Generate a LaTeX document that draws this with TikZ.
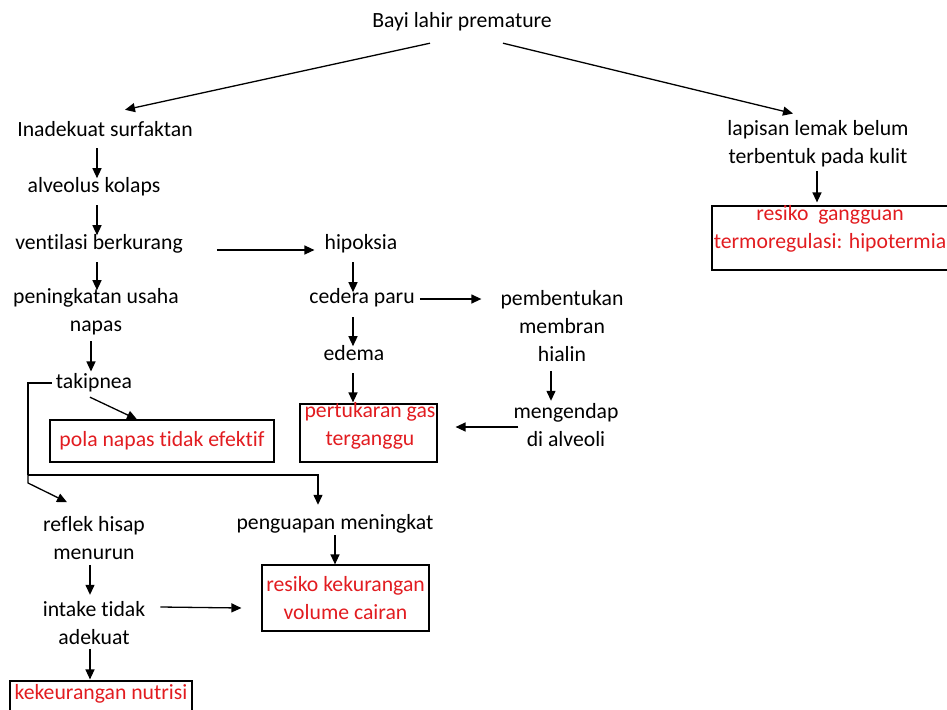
\documentclass[tikz,border=0pt]{standalone}
\usepackage{fontspec}
\setmainfont{Carlito}[RawFeature={-liga}]
\usetikzlibrary{arrows.meta}
\definecolor{txtred}{RGB}{226,28,32}
\begin{document}
\begin{tikzpicture}[x=1pt,y=-1pt,
  every node/.style={font=\fontsize{21.7}{28}\selectfont, inner sep=0pt},
  lbl/.style={text height=15pt, text depth=5pt},
  mlbl/.style={align=center},
  rtxt/.style={text=txtred, align=center},
  boxnode/.style={draw, line width=1.2pt},
  arr/.style={line width=1.3pt, -{Triangle[length=10pt,width=9pt]}},
  conn/.style={line width=1.3pt}]
\useasboundingbox (0,0) rectangle (947,709);
\clip (0,0) rectangle (947,709);
\fill[white] (0,0) rectangle (947,709);

% text nodes
\node[lbl] (bayi) at (462,23) {Bayi lahir premature};
\node[lbl] (inad) at (105,131) {Inadekuat surfaktan};
\node[lbl] (alv) at (94,187) {alveolus kolaps};
\node[lbl] (vent) at (99,244) {ventilasi berkurang};
\node[lbl] (hip) at (361,244) {hipoksia};
\node[mlbl] (pen) at (96,312) {peningkatan usaha\\napas};
\node[lbl] (tak) at (94,383) {takipnea};
\node[lbl] (ced) at (362,298) {cedera paru};
\node[mlbl] (pemb) at (562,326) {pembentukan\\membran\\hialin};
\node[lbl] (edema) at (354,355) {edema};
\node[mlbl] (meng) at (566,425) {mengendap\\di alveoli};
\node[mlbl] (refl) at (94,538) {reflek hisap\\menurun};
\node[mlbl] (intake) at (94,623) {intake tidak\\adekuat};
\node[lbl] (peng) at (335,524) {penguapan meningkat};
\node[mlbl] (lap) at (818,144) {lapisan lemak belum\\terbentuk pada kulit};

% boxes
\node[boxnode, rtxt, minimum width=224pt, minimum height=42pt] (pola) at (162,441) {pola napas tidak efektif};
\node[boxnode, minimum width=137pt, minimum height=58pt] (pertbox) at (368.5,433) {};
\node[rtxt] (pert) at (370,426) {pertukaran gas\\terganggu};
\node[boxnode, rtxt, minimum width=167pt, minimum height=66pt] (resvol) at (345.5,598) {resiko kekurangan\\volume cairan};
\node[boxnode, minimum width=238pt, minimum height=64pt] (termbox) at (831,238) {};
\node[rtxt] (term) at (830,229) {resiko\ \ gangguan\\termoregulasi: hipotermia};
\node[boxnode, minimum width=182pt, minimum height=36pt] (kekbox) at (101,699) {};
\node[rtxt, lbl] (kek) at (101,694) {kekeurangan nutrisi};

% connectors
\draw[arr] ([shift={(-32,10)}]bayi.south) -- ([shift={(20,-11)}]inad.north);
\draw[arr] ([shift={(41,10)}]bayi.south) -- ([shift={(-25,-7)}]lap.north);
\draw[arr] ([shift={(-8,7)}]inad.south) -- ([shift={(-8,37)}]inad.south);
\draw[arr] ([shift={(3,8)}]alv.south) -- ([shift={(3,38)}]alv.south);
\draw[arr] ([shift={(34,6)}]vent.east) -- ([shift={(-10,6)}]hip.west);
\draw[arr] ([shift={(-2,8)}]vent.south) -- ([shift={(-2,36)}]vent.south);
\draw[arr] ([shift={(-5,6)}]pen.south) -- ([shift={(-5,36)}]pen.south);
\draw[arr] ([shift={(-4,4)}]tak.south) -- ([shift={(-25,0)}]pola.north);
\coordinate (split) at (28,475);
\draw[conn] ([shift={(-4,0)}]tak.west) -| (split);
\draw[arr] (split) -- ++(0,8) -- ([shift={(-27,-14)}]refl.north);
\draw[arr] (split) -| ([shift={(-17,-9)}]peng.north);
\draw[arr] ([shift={(-8,8)}]hip.south) -- ([shift={(-8,38)}]hip.south);
\draw[arr] ([shift={(5,1)}]ced.east) -- ([shift={(-19,-27)}]pemb.west);
\draw[arr] ([shift={(-9,9)}]ced.south) -- ([shift={(-9,38)}]ced.south);
\draw[arr] ([shift={(-1,8)}]edema.south) -- ([shift={(-15.5,-1)}]pertbox.north);
\draw[arr] ([shift={(-11,9)}]pemb.south) -- ([shift={(-11,39)}]pemb.south);
\draw[arr] ([shift={(5,2)}]meng.west) -- ([shift={(18,-6)}]pertbox.east);
\draw[arr] ([shift={(-4,5)}]refl.south) -- ([shift={(-4,35)}]refl.south);
\draw[arr] ([shift={(15,-16)}]intake.east) -- ([shift={(-20,10)}]resvol.west);
\draw[arr] ([shift={(-4,4)}]intake.south) -- ([shift={(-11,-1)}]kekbox.north);
\draw[arr] ([shift={(0,1)}]peng.south) -- ([shift={(-10.5,0)}]resvol.north);
\draw[arr] ([shift={(-1,4)}]lap.south) -- ([shift={(-14,-3)}]termbox.north);
\end{tikzpicture}
\end{document}
